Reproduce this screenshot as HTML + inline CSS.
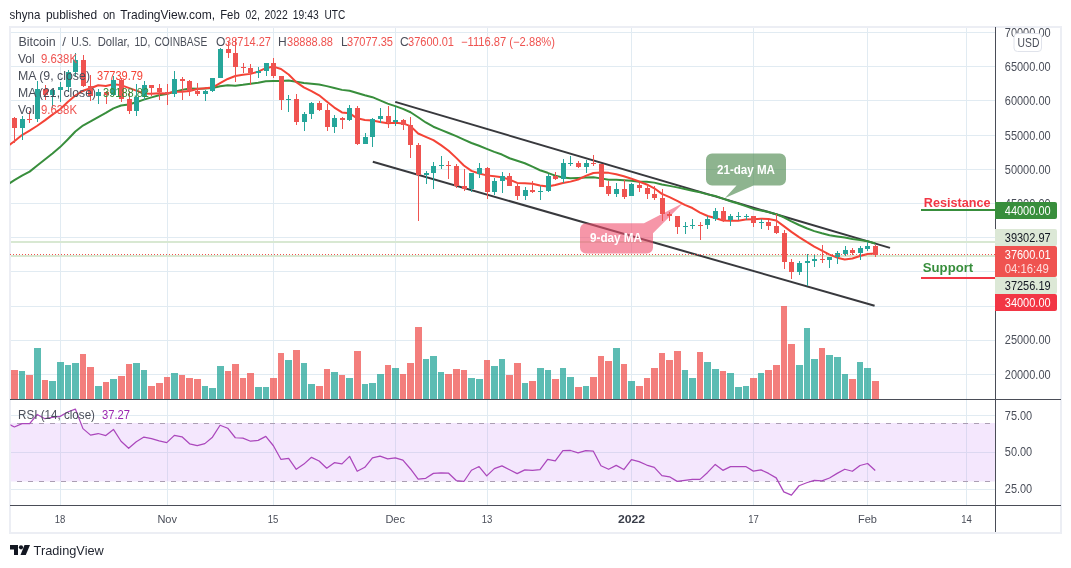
<!DOCTYPE html>
<html><head><meta charset="utf-8"><title>chart</title>
<style>
html,body{margin:0;padding:0;background:#fff;}
body{width:1071px;height:568px;overflow:hidden;position:relative;font-family:"Liberation Sans",sans-serif;}
svg{position:absolute;left:0;top:0;will-change:transform;opacity:0.999;}
text{font-family:"Liberation Sans",sans-serif;}
</style></head><body>
<svg width="1071" height="568" viewBox="0 0 1071 568">
<defs><clipPath id="mainclip"><rect x="10" y="27" width="985" height="372"/></clipPath>
<clipPath id="rsiclip"><rect x="10.5" y="400" width="985" height="105"/></clipPath></defs>
<g font-size="13" fill="#1c1f2a"><text x="9.6" y="18.600" textLength="30.7" lengthAdjust="spacingAndGlyphs">shyna</text><text x="45.9" y="18.600" textLength="51.2" lengthAdjust="spacingAndGlyphs">published</text><text x="102.9" y="18.600" textLength="12.4" lengthAdjust="spacingAndGlyphs">on</text><text x="120.2" y="18.600" textLength="94.9" lengthAdjust="spacingAndGlyphs">TradingView.com,</text><text x="220.2" y="18.600" textLength="19.5" lengthAdjust="spacingAndGlyphs">Feb</text><text x="245.4" y="18.600" textLength="14.4" lengthAdjust="spacingAndGlyphs">02,</text><text x="264.5" y="18.600" textLength="23.2" lengthAdjust="spacingAndGlyphs">2022</text><text x="292.8" y="18.600" textLength="25.9" lengthAdjust="spacingAndGlyphs">19:43</text><text x="324.4" y="18.600" textLength="20.8" lengthAdjust="spacingAndGlyphs">UTC</text></g>
<!-- frame -->
<rect x="10" y="27" width="1051" height="506" fill="#fff" stroke="#eceef4" stroke-width="2"/>
<!-- grid -->
<g stroke="#e1ebf2" stroke-width="1" shape-rendering="crispEdges">
<line x1="11" x2="995" y1="32.5" y2="32.5"/><line x1="11" x2="995" y1="66.5" y2="66.5"/><line x1="11" x2="995" y1="100.5" y2="100.5"/><line x1="11" x2="995" y1="135.5" y2="135.5"/><line x1="11" x2="995" y1="169.5" y2="169.5"/><line x1="11" x2="995" y1="203.5" y2="203.5"/><line x1="11" x2="995" y1="237.5" y2="237.5"/><line x1="11" x2="995" y1="271.5" y2="271.5"/><line x1="11" x2="995" y1="306.5" y2="306.5"/><line x1="11" x2="995" y1="340.5" y2="340.5"/><line x1="11" x2="995" y1="374.5" y2="374.5"/>
<line x1="60.5" x2="60.5" y1="28" y2="505"/><line x1="167.5" x2="167.5" y1="28" y2="505"/><line x1="273.5" x2="273.5" y1="28" y2="505"/><line x1="395.5" x2="395.5" y1="28" y2="505"/><line x1="487.5" x2="487.5" y1="28" y2="505"/><line x1="631.5" x2="631.5" y1="28" y2="505"/><line x1="753.5" x2="753.5" y1="28" y2="505"/><line x1="867.5" x2="867.5" y1="28" y2="505"/><line x1="966.5" x2="966.5" y1="28" y2="505"/>
<line x1="11" x2="995" y1="415.5" y2="415.5"/><line x1="11" x2="995" y1="452.5" y2="452.5"/><line x1="11" x2="995" y1="489.5" y2="489.5"/>
</g>
<!-- pale green horizontal lines -->
<rect x="11" y="241" width="984" height="2" fill="#d8e8d2"/>
<rect x="11" y="255" width="984" height="2" fill="#d8e8d2"/>
<g clip-path="url(#mainclip)">
<g shape-rendering="crispEdges" fill-opacity="0.75"><rect x="11" y="370" width="7" height="29" fill="#ef5350"/><rect x="19" y="371" width="6" height="28" fill="#26a69a"/><rect x="26" y="375" width="7" height="24" fill="#ef5350"/><rect x="34" y="348" width="7" height="51" fill="#26a69a"/><rect x="42" y="380" width="6" height="19" fill="#ef5350"/><rect x="49" y="381" width="7" height="18" fill="#26a69a"/><rect x="57" y="362" width="7" height="37" fill="#26a69a"/><rect x="65" y="365" width="6" height="34" fill="#26a69a"/><rect x="72" y="363" width="7" height="36" fill="#26a69a"/><rect x="80" y="354" width="6" height="45" fill="#ef5350"/><rect x="87" y="367" width="7" height="32" fill="#ef5350"/><rect x="95" y="386" width="7" height="13" fill="#26a69a"/><rect x="103" y="382" width="6" height="17" fill="#ef5350"/><rect x="110" y="379" width="7" height="20" fill="#26a69a"/><rect x="118" y="376" width="7" height="23" fill="#ef5350"/><rect x="126" y="364" width="6" height="35" fill="#ef5350"/><rect x="133" y="363" width="7" height="36" fill="#26a69a"/><rect x="141" y="370" width="6" height="29" fill="#26a69a"/><rect x="148" y="386" width="7" height="13" fill="#ef5350"/><rect x="156" y="383" width="7" height="16" fill="#ef5350"/><rect x="164" y="377" width="6" height="22" fill="#ef5350"/><rect x="171" y="373" width="7" height="26" fill="#26a69a"/><rect x="179" y="375" width="6" height="24" fill="#ef5350"/><rect x="186" y="378" width="7" height="21" fill="#ef5350"/><rect x="194" y="379" width="7" height="20" fill="#ef5350"/><rect x="202" y="386" width="6" height="13" fill="#26a69a"/><rect x="209" y="388" width="7" height="11" fill="#26a69a"/><rect x="217" y="366" width="7" height="33" fill="#26a69a"/><rect x="225" y="371" width="6" height="28" fill="#ef5350"/><rect x="232" y="364" width="7" height="35" fill="#ef5350"/><rect x="240" y="378" width="6" height="21" fill="#ef5350"/><rect x="247" y="373" width="7" height="26" fill="#ef5350"/><rect x="255" y="387" width="7" height="12" fill="#26a69a"/><rect x="263" y="387" width="6" height="12" fill="#26a69a"/><rect x="270" y="378" width="7" height="21" fill="#ef5350"/><rect x="278" y="353" width="6" height="46" fill="#ef5350"/><rect x="285" y="360" width="7" height="39" fill="#26a69a"/><rect x="293" y="350" width="7" height="49" fill="#ef5350"/><rect x="301" y="363" width="6" height="36" fill="#26a69a"/><rect x="308" y="384" width="7" height="15" fill="#26a69a"/><rect x="316" y="386" width="7" height="13" fill="#ef5350"/><rect x="324" y="369" width="6" height="30" fill="#ef5350"/><rect x="331" y="372" width="7" height="27" fill="#26a69a"/><rect x="339" y="375" width="6" height="24" fill="#ef5350"/><rect x="346" y="378" width="7" height="21" fill="#26a69a"/><rect x="354" y="351" width="7" height="48" fill="#ef5350"/><rect x="362" y="384" width="6" height="15" fill="#26a69a"/><rect x="369" y="383" width="7" height="16" fill="#26a69a"/><rect x="377" y="374" width="7" height="25" fill="#26a69a"/><rect x="385" y="365" width="6" height="34" fill="#ef5350"/><rect x="392" y="368" width="7" height="31" fill="#26a69a"/><rect x="400" y="374" width="6" height="25" fill="#ef5350"/><rect x="407" y="363" width="7" height="36" fill="#ef5350"/><rect x="415" y="327" width="7" height="72" fill="#ef5350"/><rect x="423" y="359" width="6" height="40" fill="#26a69a"/><rect x="430" y="356" width="7" height="43" fill="#26a69a"/><rect x="438" y="372" width="6" height="27" fill="#26a69a"/><rect x="445" y="374" width="7" height="25" fill="#ef5350"/><rect x="453" y="369" width="7" height="30" fill="#ef5350"/><rect x="461" y="370" width="6" height="29" fill="#ef5350"/><rect x="468" y="378" width="7" height="21" fill="#26a69a"/><rect x="476" y="379" width="7" height="20" fill="#26a69a"/><rect x="484" y="360" width="6" height="39" fill="#ef5350"/><rect x="491" y="366" width="7" height="33" fill="#26a69a"/><rect x="499" y="359" width="6" height="40" fill="#26a69a"/><rect x="506" y="375" width="7" height="24" fill="#ef5350"/><rect x="514" y="363" width="7" height="36" fill="#ef5350"/><rect x="522" y="383" width="6" height="16" fill="#26a69a"/><rect x="529" y="381" width="7" height="18" fill="#ef5350"/><rect x="537" y="368" width="7" height="31" fill="#26a69a"/><rect x="545" y="370" width="6" height="29" fill="#26a69a"/><rect x="552" y="379" width="7" height="20" fill="#ef5350"/><rect x="560" y="368" width="6" height="31" fill="#26a69a"/><rect x="567" y="377" width="7" height="22" fill="#26a69a"/><rect x="575" y="387" width="7" height="12" fill="#ef5350"/><rect x="583" y="386" width="6" height="13" fill="#26a69a"/><rect x="590" y="377" width="7" height="22" fill="#ef5350"/><rect x="598" y="356" width="6" height="43" fill="#ef5350"/><rect x="605" y="361" width="7" height="38" fill="#ef5350"/><rect x="613" y="348" width="7" height="51" fill="#26a69a"/><rect x="621" y="364" width="6" height="35" fill="#ef5350"/><rect x="628" y="381" width="7" height="18" fill="#26a69a"/><rect x="636" y="386" width="7" height="13" fill="#ef5350"/><rect x="644" y="378" width="6" height="21" fill="#ef5350"/><rect x="651" y="368" width="7" height="31" fill="#ef5350"/><rect x="659" y="353" width="6" height="46" fill="#ef5350"/><rect x="666" y="360" width="7" height="39" fill="#ef5350"/><rect x="674" y="351" width="7" height="48" fill="#ef5350"/><rect x="682" y="370" width="6" height="29" fill="#26a69a"/><rect x="689" y="378" width="7" height="21" fill="#26a69a"/><rect x="697" y="352" width="6" height="47" fill="#ef5350"/><rect x="704" y="362" width="7" height="37" fill="#26a69a"/><rect x="712" y="369" width="7" height="30" fill="#26a69a"/><rect x="720" y="371" width="6" height="28" fill="#ef5350"/><rect x="727" y="373" width="7" height="26" fill="#26a69a"/><rect x="735" y="387" width="7" height="12" fill="#26a69a"/><rect x="743" y="386" width="6" height="13" fill="#26a69a"/><rect x="750" y="378" width="7" height="21" fill="#ef5350"/><rect x="758" y="373" width="6" height="26" fill="#26a69a"/><rect x="765" y="370" width="7" height="29" fill="#ef5350"/><rect x="773" y="365" width="7" height="34" fill="#ef5350"/><rect x="781" y="306" width="6" height="93" fill="#ef5350"/><rect x="788" y="344" width="7" height="55" fill="#ef5350"/><rect x="796" y="365" width="7" height="34" fill="#26a69a"/><rect x="804" y="328" width="6" height="71" fill="#26a69a"/><rect x="811" y="359" width="7" height="40" fill="#26a69a"/><rect x="819" y="348" width="6" height="51" fill="#ef5350"/><rect x="826" y="355" width="7" height="44" fill="#26a69a"/><rect x="834" y="357" width="7" height="42" fill="#26a69a"/><rect x="842" y="374" width="6" height="25" fill="#26a69a"/><rect x="849" y="379" width="7" height="20" fill="#ef5350"/><rect x="857" y="362" width="6" height="37" fill="#26a69a"/><rect x="864" y="368" width="7" height="31" fill="#26a69a"/><rect x="872" y="381" width="7" height="18" fill="#ef5350"/></g>
<!-- channel -->
<line x1="395.200" y1="101.900" x2="890" y2="247.900" stroke="#38393d" stroke-width="2"/>
<line x1="372.800" y1="161.800" x2="874.600" y2="305.800" stroke="#38393d" stroke-width="2"/>
</g>
<!-- callouts -->
<path d="M712,153.500 h68 a6,6 0 0 1 6,6 v20 a6,6 0 0 1 -6,6 h-26.500 l-28.500,12.500 l11.500,-12.500 h-24.500 a6,6 0 0 1 -6,-6 v-20 a6,6 0 0 1 6,-6 z" fill="#4f8a50" fill-opacity="0.64"/>
<text x="717" y="173.600" font-size="12.500" font-weight="bold" fill="#fff" textLength="58" lengthAdjust="spacingAndGlyphs">21-day MA</text>
<path d="M586,223.200 h58 l39.200,-20.300 l-30.200,30.300 v14.400 a6,6 0 0 1 -6,6 h-61 a6,6 0 0 1 -6,-6 v-18.400 a6,6 0 0 1 6,-6 z" fill="#f0506e" fill-opacity="0.6"/>
<text x="590" y="242" font-size="12.500" font-weight="bold" fill="#fff" textLength="52" lengthAdjust="spacingAndGlyphs">9-day MA</text>
<g clip-path="url(#mainclip)">
<path d="M6.77,185.15 L14.39,180.16 L22.01,175.66 L29.63,171.60 L37.25,165.47 L44.86,159.55 L52.48,153.58 L60.10,147.11 L67.72,139.54 L75.34,131.56 L82.95,125.57 L90.57,121.48 L98.19,117.04 L105.81,112.92 L113.43,108.41 L121.04,105.53 L128.66,104.52 L136.28,102.31 L143.90,99.60 L151.52,97.34 L159.13,95.17 L166.75,94.04 L174.37,91.68 L181.99,89.87 L189.61,88.55 L197.22,88.76 L204.84,88.56 L212.46,87.98 L220.08,86.18 L227.70,85.31 L235.31,85.67 L242.93,84.82 L250.55,83.69 L258.17,82.68 L265.79,81.17 L273.40,81.00 L281.02,81.08 L288.64,80.46 L296.26,81.66 L303.88,83.02 L311.49,83.72 L319.11,84.60 L326.73,86.13 L334.35,87.99 L341.97,89.87 L349.58,90.67 L357.20,93.03 L364.82,95.23 L372.44,97.19 L380.06,100.36 L387.67,103.62 L395.29,106.13 L402.91,108.83 L410.53,112.27 L418.15,117.22 L425.76,122.46 L433.38,126.73 L441.00,129.82 L448.62,133.03 L456.24,136.08 L463.85,139.64 L471.47,143.01 L479.09,145.77 L486.71,148.88 L494.33,151.87 L501.94,154.53 L509.56,158.23 L517.18,160.70 L524.80,163.24 L532.42,166.68 L540.03,170.23 L547.65,172.82 L555.27,175.62 L562.89,177.44 L570.51,178.31 L578.12,177.92 L585.74,177.43 L593.36,177.34 L600.98,178.38 L608.60,179.72 L616.21,179.87 L623.83,180.26 L631.45,180.78 L639.07,181.72 L646.69,181.80 L654.30,182.62 L661.92,184.43 L669.54,185.89 L677.16,187.39 L684.78,189.10 L692.39,190.70 L700.01,192.35 L707.63,194.38 L715.25,195.91 L722.87,198.63 L730.48,201.19 L738.10,203.57 L745.72,206.11 L753.34,208.90 L760.96,210.55 L768.57,212.09 L776.19,214.17 L783.81,217.27 L791.43,221.42 L799.05,225.02 L806.66,228.21 L814.28,231.11 L821.90,233.28 L829.52,235.21 L837.14,236.47 L844.75,237.61 L852.37,238.93 L859.99,240.02 L867.61,241.33 L875.23,243.42" fill="none" stroke="#388e3c" stroke-width="2" stroke-linejoin="round"/>
<path d="M6.77,147.12 L14.39,141.19 L22.01,135.02 L29.63,130.58 L37.25,125.77 L44.86,120.40 L52.48,114.64 L60.10,109.27 L67.72,101.99 L75.34,95.52 L82.95,90.81 L90.57,88.28 L98.19,85.28 L105.81,85.90 L113.43,84.22 L121.04,85.13 L128.66,87.83 L136.28,90.63 L143.90,93.46 L151.52,93.70 L159.13,93.20 L166.75,93.47 L174.37,91.65 L181.99,91.75 L189.61,90.94 L197.22,89.00 L204.84,88.31 L212.46,87.54 L220.08,83.24 L227.70,78.97 L235.31,75.97 L242.93,74.79 L250.55,73.88 L258.17,71.60 L265.79,68.18 L273.40,66.59 L281.02,69.02 L288.64,74.49 L296.26,82.13 L303.88,87.30 L311.49,91.13 L319.11,95.31 L326.73,101.51 L334.35,107.55 L341.97,112.45 L349.58,113.33 L357.20,118.34 L364.82,119.98 L372.44,120.58 L380.06,122.07 L387.67,123.36 L395.29,122.64 L402.91,123.43 L410.53,126.13 L418.15,133.54 L425.76,136.85 L433.38,140.08 L441.00,145.17 L448.62,150.72 L456.24,157.86 L463.85,165.50 L471.47,170.90 L479.09,173.48 L486.71,175.38 L494.33,176.18 L501.94,177.32 L509.56,179.60 L517.18,182.90 L524.80,183.36 L532.42,183.66 L540.03,185.56 L547.65,186.48 L555.27,185.03 L562.89,183.09 L570.51,181.61 L578.12,179.48 L585.74,175.87 L593.36,172.96 L600.98,172.47 L608.60,172.86 L616.21,174.31 L623.83,176.32 L631.45,178.68 L639.07,181.45 L646.69,184.45 L654.30,188.29 L661.92,193.86 L669.54,197.13 L677.16,200.80 L684.78,204.91 L692.39,208.02 L700.01,212.56 L707.63,216.02 L715.25,217.96 L722.87,220.46 L730.48,220.73 L738.10,220.73 L745.72,219.55 L753.34,219.17 L760.96,218.79 L768.57,218.93 L776.19,220.49 L783.81,226.15 L791.43,231.85 L799.05,237.05 L806.66,241.96 L814.28,246.63 L821.90,250.73 L829.52,254.69 L837.14,257.69 L844.75,259.59 L852.37,258.56 L859.99,255.96 L867.61,254.08 L875.23,253.43" fill="none" stroke="#f44336" stroke-width="2" stroke-linejoin="round"/>
<g shape-rendering="crispEdges"><rect x="14" y="117" width="1" height="26" fill="#ef5350"/><rect x="12" y="118" width="5" height="10" fill="#ef5350"/><rect x="22" y="116" width="1" height="24" fill="#26a69a"/><rect x="20" y="119" width="5" height="9" fill="#26a69a"/><rect x="29" y="111" width="1" height="12" fill="#ef5350"/><rect x="27" y="119" width="5" height="1" fill="#ef5350"/><rect x="37" y="81" width="1" height="41" fill="#26a69a"/><rect x="35" y="89" width="5" height="30" fill="#26a69a"/><rect x="45" y="85" width="1" height="15" fill="#ef5350"/><rect x="43" y="89" width="5" height="6" fill="#ef5350"/><rect x="52" y="89" width="1" height="19" fill="#26a69a"/><rect x="50" y="90" width="5" height="5" fill="#26a69a"/><rect x="60" y="82" width="1" height="20" fill="#26a69a"/><rect x="58" y="87" width="5" height="3" fill="#26a69a"/><rect x="68" y="70" width="1" height="22" fill="#26a69a"/><rect x="66" y="72" width="5" height="15" fill="#26a69a"/><rect x="75" y="53" width="1" height="24" fill="#26a69a"/><rect x="73" y="60" width="5" height="12" fill="#26a69a"/><rect x="83" y="55" width="1" height="32" fill="#ef5350"/><rect x="81" y="60" width="5" height="26" fill="#ef5350"/><rect x="90" y="75" width="1" height="26" fill="#ef5350"/><rect x="88" y="86" width="5" height="10" fill="#ef5350"/><rect x="98" y="89" width="1" height="15" fill="#26a69a"/><rect x="96" y="92" width="5" height="4" fill="#26a69a"/><rect x="106" y="91" width="1" height="13" fill="#ef5350"/><rect x="104" y="92" width="5" height="3" fill="#ef5350"/><rect x="113" y="76" width="1" height="20" fill="#26a69a"/><rect x="111" y="80" width="5" height="15" fill="#26a69a"/><rect x="121" y="78" width="1" height="24" fill="#ef5350"/><rect x="119" y="80" width="5" height="19" fill="#ef5350"/><rect x="129" y="91" width="1" height="23" fill="#ef5350"/><rect x="127" y="99" width="5" height="12" fill="#ef5350"/><rect x="136" y="84" width="1" height="32" fill="#26a69a"/><rect x="134" y="97" width="5" height="14" fill="#26a69a"/><rect x="144" y="81" width="1" height="19" fill="#26a69a"/><rect x="142" y="85" width="5" height="12" fill="#26a69a"/><rect x="151" y="85" width="1" height="11" fill="#ef5350"/><rect x="149" y="85" width="5" height="3" fill="#ef5350"/><rect x="159" y="84" width="1" height="16" fill="#ef5350"/><rect x="157" y="88" width="5" height="4" fill="#ef5350"/><rect x="167" y="84" width="1" height="21" fill="#ef5350"/><rect x="165" y="92" width="5" height="2" fill="#ef5350"/><rect x="174" y="71" width="1" height="26" fill="#26a69a"/><rect x="172" y="79" width="5" height="15" fill="#26a69a"/><rect x="182" y="77" width="1" height="23" fill="#ef5350"/><rect x="180" y="79" width="5" height="2" fill="#ef5350"/><rect x="189" y="80" width="1" height="16" fill="#ef5350"/><rect x="187" y="81" width="5" height="10" fill="#ef5350"/><rect x="197" y="83" width="1" height="13" fill="#ef5350"/><rect x="195" y="91" width="5" height="3" fill="#ef5350"/><rect x="205" y="90" width="1" height="11" fill="#26a69a"/><rect x="203" y="91" width="5" height="3" fill="#26a69a"/><rect x="212" y="78" width="1" height="14" fill="#26a69a"/><rect x="210" y="78" width="5" height="13" fill="#26a69a"/><rect x="220" y="48" width="1" height="30" fill="#26a69a"/><rect x="218" y="49" width="5" height="29" fill="#26a69a"/><rect x="228" y="42" width="1" height="16" fill="#ef5350"/><rect x="226" y="49" width="5" height="4" fill="#ef5350"/><rect x="235" y="39" width="1" height="43" fill="#ef5350"/><rect x="233" y="53" width="5" height="14" fill="#ef5350"/><rect x="243" y="63" width="1" height="10" fill="#ef5350"/><rect x="241" y="67" width="5" height="1" fill="#ef5350"/><rect x="250" y="64" width="1" height="21" fill="#ef5350"/><rect x="248" y="68" width="5" height="5" fill="#ef5350"/><rect x="258" y="67" width="1" height="11" fill="#26a69a"/><rect x="256" y="71" width="5" height="2" fill="#26a69a"/><rect x="266" y="63" width="1" height="13" fill="#26a69a"/><rect x="264" y="63" width="5" height="8" fill="#26a69a"/><rect x="273" y="58" width="1" height="20" fill="#ef5350"/><rect x="271" y="63" width="5" height="13" fill="#ef5350"/><rect x="281" y="76" width="1" height="34" fill="#ef5350"/><rect x="279" y="76" width="5" height="24" fill="#ef5350"/><rect x="288" y="95" width="1" height="17" fill="#26a69a"/><rect x="286" y="99" width="5" height="1" fill="#26a69a"/><rect x="296" y="94" width="1" height="31" fill="#ef5350"/><rect x="294" y="99" width="5" height="23" fill="#ef5350"/><rect x="304" y="112" width="1" height="19" fill="#26a69a"/><rect x="302" y="114" width="5" height="8" fill="#26a69a"/><rect x="311" y="102" width="1" height="17" fill="#26a69a"/><rect x="309" y="103" width="5" height="11" fill="#26a69a"/><rect x="319" y="101" width="1" height="10" fill="#ef5350"/><rect x="317" y="103" width="5" height="7" fill="#ef5350"/><rect x="327" y="104" width="1" height="27" fill="#ef5350"/><rect x="325" y="110" width="5" height="17" fill="#ef5350"/><rect x="334" y="115" width="1" height="18" fill="#26a69a"/><rect x="332" y="118" width="5" height="9" fill="#26a69a"/><rect x="342" y="117" width="1" height="12" fill="#ef5350"/><rect x="340" y="118" width="5" height="2" fill="#ef5350"/><rect x="349" y="105" width="1" height="16" fill="#26a69a"/><rect x="347" y="108" width="5" height="12" fill="#26a69a"/><rect x="357" y="106" width="1" height="39" fill="#ef5350"/><rect x="355" y="108" width="5" height="36" fill="#ef5350"/><rect x="365" y="133" width="1" height="11" fill="#26a69a"/><rect x="363" y="137" width="5" height="7" fill="#26a69a"/><rect x="372" y="118" width="1" height="29" fill="#26a69a"/><rect x="370" y="119" width="5" height="18" fill="#26a69a"/><rect x="380" y="108" width="1" height="15" fill="#26a69a"/><rect x="378" y="116" width="5" height="3" fill="#26a69a"/><rect x="388" y="106" width="1" height="22" fill="#ef5350"/><rect x="386" y="116" width="5" height="6" fill="#ef5350"/><rect x="395" y="107" width="1" height="19" fill="#26a69a"/><rect x="393" y="120" width="5" height="2" fill="#26a69a"/><rect x="403" y="119" width="1" height="11" fill="#ef5350"/><rect x="401" y="120" width="5" height="5" fill="#ef5350"/><rect x="410" y="117" width="1" height="41" fill="#ef5350"/><rect x="408" y="125" width="5" height="20" fill="#ef5350"/><rect x="418" y="143" width="1" height="78" fill="#ef5350"/><rect x="416" y="145" width="5" height="30" fill="#ef5350"/><rect x="426" y="171" width="1" height="13" fill="#26a69a"/><rect x="424" y="173" width="5" height="2" fill="#26a69a"/><rect x="433" y="162" width="1" height="27" fill="#26a69a"/><rect x="431" y="166" width="5" height="7" fill="#26a69a"/><rect x="441" y="156" width="1" height="13" fill="#26a69a"/><rect x="439" y="165" width="5" height="1" fill="#26a69a"/><rect x="448" y="161" width="1" height="18" fill="#ef5350"/><rect x="446" y="165" width="5" height="1" fill="#ef5350"/><rect x="456" y="164" width="1" height="24" fill="#ef5350"/><rect x="454" y="166" width="5" height="20" fill="#ef5350"/><rect x="464" y="169" width="1" height="22" fill="#ef5350"/><rect x="462" y="186" width="5" height="3" fill="#ef5350"/><rect x="471" y="173" width="1" height="19" fill="#26a69a"/><rect x="469" y="173" width="5" height="16" fill="#26a69a"/><rect x="479" y="163" width="1" height="15" fill="#26a69a"/><rect x="477" y="168" width="5" height="6" fill="#26a69a"/><rect x="487" y="167" width="1" height="32" fill="#ef5350"/><rect x="485" y="168" width="5" height="24" fill="#ef5350"/><rect x="494" y="178" width="1" height="17" fill="#26a69a"/><rect x="492" y="181" width="5" height="11" fill="#26a69a"/><rect x="502" y="172" width="1" height="21" fill="#26a69a"/><rect x="500" y="176" width="5" height="5" fill="#26a69a"/><rect x="509" y="173" width="1" height="13" fill="#ef5350"/><rect x="507" y="176" width="5" height="10" fill="#ef5350"/><rect x="517" y="183" width="1" height="17" fill="#ef5350"/><rect x="515" y="186" width="5" height="10" fill="#ef5350"/><rect x="525" y="187" width="1" height="13" fill="#26a69a"/><rect x="523" y="190" width="5" height="6" fill="#26a69a"/><rect x="532" y="181" width="1" height="12" fill="#ef5350"/><rect x="530" y="190" width="5" height="2" fill="#ef5350"/><rect x="540" y="186" width="1" height="14" fill="#26a69a"/><rect x="538" y="191" width="5" height="1" fill="#26a69a"/><rect x="548" y="174" width="1" height="18" fill="#26a69a"/><rect x="546" y="176" width="5" height="15" fill="#26a69a"/><rect x="555" y="172" width="1" height="8" fill="#ef5350"/><rect x="553" y="176" width="5" height="3" fill="#ef5350"/><rect x="563" y="159" width="1" height="24" fill="#26a69a"/><rect x="561" y="163" width="5" height="16" fill="#26a69a"/><rect x="570" y="156" width="1" height="10" fill="#26a69a"/><rect x="568" y="163" width="5" height="1" fill="#26a69a"/><rect x="578" y="161" width="1" height="7" fill="#ef5350"/><rect x="576" y="163" width="5" height="4" fill="#ef5350"/><rect x="586" y="160" width="1" height="13" fill="#26a69a"/><rect x="584" y="163" width="5" height="4" fill="#26a69a"/><rect x="593" y="155" width="1" height="11" fill="#ef5350"/><rect x="591" y="163" width="5" height="1" fill="#ef5350"/><rect x="601" y="164" width="1" height="23" fill="#ef5350"/><rect x="599" y="164" width="5" height="23" fill="#ef5350"/><rect x="608" y="181" width="1" height="15" fill="#ef5350"/><rect x="606" y="186" width="5" height="8" fill="#ef5350"/><rect x="616" y="183" width="1" height="14" fill="#26a69a"/><rect x="614" y="189" width="5" height="5" fill="#26a69a"/><rect x="624" y="179" width="1" height="20" fill="#ef5350"/><rect x="622" y="189" width="5" height="8" fill="#ef5350"/><rect x="631" y="183" width="1" height="13" fill="#26a69a"/><rect x="629" y="184" width="5" height="12" fill="#26a69a"/><rect x="639" y="183" width="1" height="9" fill="#ef5350"/><rect x="637" y="185" width="5" height="3" fill="#ef5350"/><rect x="647" y="186" width="1" height="13" fill="#ef5350"/><rect x="645" y="188" width="5" height="6" fill="#ef5350"/><rect x="654" y="186" width="1" height="14" fill="#ef5350"/><rect x="652" y="194" width="5" height="4" fill="#ef5350"/><rect x="662" y="189" width="1" height="32" fill="#ef5350"/><rect x="660" y="198" width="5" height="16" fill="#ef5350"/><rect x="669" y="212" width="1" height="9" fill="#ef5350"/><rect x="667" y="214" width="5" height="2" fill="#ef5350"/><rect x="677" y="216" width="1" height="18" fill="#ef5350"/><rect x="675" y="216" width="5" height="11" fill="#ef5350"/><rect x="685" y="222" width="1" height="12" fill="#26a69a"/><rect x="683" y="226" width="5" height="1" fill="#26a69a"/><rect x="692" y="219" width="1" height="10" fill="#26a69a"/><rect x="690" y="225" width="5" height="1" fill="#26a69a"/><rect x="700" y="222" width="1" height="18" fill="#ef5350"/><rect x="698" y="225" width="5" height="1" fill="#ef5350"/><rect x="707" y="216" width="1" height="13" fill="#26a69a"/><rect x="705" y="219" width="5" height="6" fill="#26a69a"/><rect x="715" y="208" width="1" height="13" fill="#26a69a"/><rect x="713" y="211" width="5" height="8" fill="#26a69a"/><rect x="723" y="207" width="1" height="15" fill="#ef5350"/><rect x="721" y="211" width="5" height="9" fill="#ef5350"/><rect x="730" y="214" width="1" height="12" fill="#26a69a"/><rect x="728" y="216" width="5" height="4" fill="#26a69a"/><rect x="738" y="212" width="1" height="8" fill="#26a69a"/><rect x="736" y="216" width="5" height="1" fill="#26a69a"/><rect x="746" y="214" width="1" height="6" fill="#26a69a"/><rect x="744" y="216" width="5" height="1" fill="#26a69a"/><rect x="753" y="216" width="1" height="11" fill="#ef5350"/><rect x="751" y="216" width="5" height="7" fill="#ef5350"/><rect x="761" y="219" width="1" height="10" fill="#26a69a"/><rect x="759" y="222" width="5" height="1" fill="#26a69a"/><rect x="768" y="220" width="1" height="10" fill="#ef5350"/><rect x="766" y="222" width="5" height="4" fill="#ef5350"/><rect x="776" y="214" width="1" height="20" fill="#ef5350"/><rect x="774" y="226" width="5" height="7" fill="#ef5350"/><rect x="784" y="230" width="1" height="39" fill="#ef5350"/><rect x="782" y="233" width="5" height="29" fill="#ef5350"/><rect x="791" y="259" width="1" height="20" fill="#ef5350"/><rect x="789" y="262" width="5" height="10" fill="#ef5350"/><rect x="799" y="261" width="1" height="14" fill="#26a69a"/><rect x="797" y="263" width="5" height="9" fill="#26a69a"/><rect x="807" y="254" width="1" height="32" fill="#26a69a"/><rect x="805" y="261" width="5" height="2" fill="#26a69a"/><rect x="814" y="254" width="1" height="13" fill="#26a69a"/><rect x="812" y="259" width="5" height="2" fill="#26a69a"/><rect x="822" y="245" width="1" height="18" fill="#ef5350"/><rect x="820" y="259" width="5" height="1" fill="#ef5350"/><rect x="829" y="257" width="1" height="11" fill="#26a69a"/><rect x="827" y="257" width="5" height="3" fill="#26a69a"/><rect x="837" y="251" width="1" height="13" fill="#26a69a"/><rect x="835" y="253" width="5" height="4" fill="#26a69a"/><rect x="845" y="246" width="1" height="10" fill="#26a69a"/><rect x="843" y="250" width="5" height="4" fill="#26a69a"/><rect x="852" y="248" width="1" height="7" fill="#ef5350"/><rect x="850" y="250" width="5" height="3" fill="#ef5350"/><rect x="860" y="246" width="1" height="14" fill="#26a69a"/><rect x="858" y="248" width="5" height="5" fill="#26a69a"/><rect x="867" y="242" width="1" height="9" fill="#26a69a"/><rect x="865" y="246" width="5" height="3" fill="#26a69a"/><rect x="875" y="245" width="1" height="12" fill="#ef5350"/><rect x="873" y="246" width="5" height="9" fill="#ef5350"/></g>
<line x1="10" x2="995" y1="254.500" y2="254.500" stroke="#ef5350" stroke-width="1" stroke-dasharray="1,2" shape-rendering="crispEdges"/>
</g>
<!-- Resistance / Support -->
<text x="923.800" y="207" font-size="13.500" font-weight="bold" fill="#f23645" textLength="66.700" lengthAdjust="spacingAndGlyphs">Resistance</text>
<rect x="921" y="209" width="75" height="2" fill="#388e3c"/>
<text x="922.800" y="272" font-size="13.500" font-weight="bold" fill="#388e3c" textLength="50.400" lengthAdjust="spacingAndGlyphs">Support</text>
<rect x="921" y="277" width="75" height="2" fill="#f23645"/>
<!-- RSI -->
<rect x="11" y="423" width="984" height="58.500" fill="#f4e7fd"/>
<g stroke="#dcd8f1" stroke-width="1" shape-rendering="crispEdges">
<line x1="11" x2="995" y1="452.500" y2="452.500"/>
<line x1="60.5" x2="60.5" y1="423" y2="481"/><line x1="167.5" x2="167.5" y1="423" y2="481"/><line x1="273.5" x2="273.5" y1="423" y2="481"/><line x1="395.5" x2="395.5" y1="423" y2="481"/><line x1="487.5" x2="487.5" y1="423" y2="481"/><line x1="631.5" x2="631.5" y1="423" y2="481"/><line x1="753.5" x2="753.5" y1="423" y2="481"/><line x1="867.5" x2="867.5" y1="423" y2="481"/><line x1="966.5" x2="966.5" y1="423" y2="481"/>
</g>
<line x1="11" x2="995" y1="423.500" y2="423.500" stroke="#ab9eb3" stroke-width="1" stroke-dasharray="5,6" stroke-dashoffset="5"/>
<line x1="11" x2="995" y1="481.500" y2="481.500" stroke="#ab9eb3" stroke-width="1" stroke-dasharray="5,6" stroke-dashoffset="5"/>
<g clip-path="url(#rsiclip)"><path d="M6.77,423.02 L14.39,426.96 L22.01,423.61 L29.63,423.72 L37.25,414.49 L44.86,418.73 L52.48,417.39 L60.10,416.39 L67.72,411.97 L75.34,409.05 L82.95,428.62 L90.57,435.15 L98.19,433.52 L105.81,435.53 L113.43,429.43 L121.04,441.24 L128.66,448.24 L136.28,441.74 L143.90,437.08 L151.52,438.63 L159.13,440.92 L166.75,442.60 L174.37,435.38 L181.99,436.76 L189.61,443.78 L197.22,445.53 L204.84,443.63 L212.46,437.15 L220.08,425.25 L227.70,428.21 L235.31,437.75 L242.93,438.20 L250.55,441.23 L258.17,440.33 L265.79,436.40 L273.40,445.73 L281.02,459.48 L288.64,458.42 L296.26,469.36 L303.88,464.10 L311.49,457.33 L319.11,460.98 L326.73,468.19 L334.35,462.67 L341.97,463.92 L349.58,456.37 L357.20,471.24 L364.82,467.27 L372.44,457.90 L380.06,456.17 L387.67,458.82 L395.29,457.85 L402.91,460.20 L410.53,468.99 L418.15,479.21 L425.76,478.32 L433.38,473.38 L441.00,472.92 L448.62,473.19 L456.24,480.57 L463.85,481.48 L471.47,470.23 L479.09,466.55 L486.71,475.92 L494.33,468.62 L501.94,465.84 L509.56,469.81 L517.18,473.67 L524.80,469.90 L532.42,470.48 L540.03,469.70 L547.65,459.37 L555.27,460.87 L562.89,450.69 L570.51,450.48 L578.12,452.94 L585.74,450.60 L593.36,451.20 L600.98,465.72 L608.60,469.30 L616.21,465.33 L623.83,469.52 L631.45,459.67 L639.07,461.67 L646.69,465.04 L654.30,467.38 L661.92,475.67 L669.54,476.77 L677.16,481.40 L684.78,480.39 L692.39,479.32 L700.01,479.39 L707.63,472.42 L715.25,464.40 L722.87,470.34 L730.48,466.57 L738.10,466.57 L745.72,466.57 L753.34,471.12 L760.96,469.85 L768.57,473.43 L776.19,477.91 L783.81,491.91 L791.43,495.10 L799.05,485.74 L806.66,482.73 L814.28,480.42 L821.90,480.95 L829.52,478.00 L837.14,473.38 L844.75,469.24 L852.37,471.27 L859.99,465.50 L867.61,463.49 L875.23,470.44" fill="none" stroke="#ab47bc" stroke-width="1.250" stroke-linejoin="round"/></g>
<!-- separators / axes -->
<rect x="10" y="399" width="1051" height="1" fill="#4a4d57"/>
<rect x="10" y="505" width="1051" height="1" fill="#4a4d57"/>
<rect x="995" y="27" width="1" height="505" fill="#4a4d57"/>
<!-- price labels -->
<g font-size="12" fill="#4a4e59">
<text x="1004.800" y="36.9" textLength="45.800" lengthAdjust="spacingAndGlyphs">70000.00</text><text x="1004.800" y="71.1" textLength="45.800" lengthAdjust="spacingAndGlyphs">65000.00</text><text x="1004.800" y="105.3" textLength="45.800" lengthAdjust="spacingAndGlyphs">60000.00</text><text x="1004.800" y="139.5" textLength="45.800" lengthAdjust="spacingAndGlyphs">55000.00</text><text x="1004.800" y="173.7" textLength="45.800" lengthAdjust="spacingAndGlyphs">50000.00</text><text x="1004.800" y="207.9" textLength="45.800" lengthAdjust="spacingAndGlyphs">45000.00</text>
<text x="1004.800" y="343.9" textLength="45.800" lengthAdjust="spacingAndGlyphs">25000.00</text>
<text x="1004.800" y="378.9" textLength="45.800" lengthAdjust="spacingAndGlyphs">20000.00</text>
<text x="1004.800" y="420" textLength="27.400" lengthAdjust="spacingAndGlyphs">75.00</text>
<text x="1004.800" y="456" textLength="27.400" lengthAdjust="spacingAndGlyphs">50.00</text>
<text x="1004.800" y="493" textLength="27.400" lengthAdjust="spacingAndGlyphs">25.00</text>
</g>
<!-- USD -->
<rect x="1014" y="33.500" width="27.500" height="18" rx="3.500" fill="#fff" stroke="#e0e3eb"/>
<text x="1017.600" y="46.900" font-size="12" fill="#4a4e59" textLength="21.800" lengthAdjust="spacingAndGlyphs">USD</text>
<!-- axis tags -->
<path d="M995,202 h60 a2,2 0 0 1 2,2 v13 a2,2 0 0 1 -2,2 h-60 z" fill="#388e3c"/>
<text x="1004.800" y="215" font-size="12" fill="#fff" textLength="45.800" lengthAdjust="spacingAndGlyphs">44000.00</text>
<path d="M995,229 h60 a2,2 0 0 1 2,2 v13 a2,2 0 0 1 -2,2 h-60 z" fill="#dce8d6"/>
<text x="1004.800" y="242" font-size="12" fill="#131722" textLength="45.800" lengthAdjust="spacingAndGlyphs">39302.97</text>
<path d="M995,246 h60 a2,2 0 0 1 2,2 v27 a2,2 0 0 1 -2,2 h-60 z" fill="#ef5350"/>
<text x="1004.800" y="259" font-size="12" fill="#fff" textLength="45.800" lengthAdjust="spacingAndGlyphs">37600.01</text>
<text x="1004.800" y="273" font-size="12" fill="#ffdcdc" textLength="44" lengthAdjust="spacingAndGlyphs">04:16:49</text>
<path d="M995,277 h60 a2,2 0 0 1 2,2 v13 a2,2 0 0 1 -2,2 h-60 z" fill="#dce8d6"/>
<text x="1004.800" y="290" font-size="12" fill="#131722" textLength="45.800" lengthAdjust="spacingAndGlyphs">37256.19</text>
<path d="M995,294 h60 a2,2 0 0 1 2,2 v13 a2,2 0 0 1 -2,2 h-60 z" fill="#f23645"/>
<text x="1004.800" y="307" font-size="12" fill="#fff" textLength="45.800" lengthAdjust="spacingAndGlyphs">34000.00</text>
<!-- time labels -->
<g font-size="11.500" fill="#4a4e59" text-anchor="middle">
<text x="60" y="523" textLength="10.600" lengthAdjust="spacingAndGlyphs">18</text><text x="167.200" y="523" textLength="19.600" lengthAdjust="spacingAndGlyphs">Nov</text><text x="273" y="523" textLength="10.600" lengthAdjust="spacingAndGlyphs">15</text><text x="395.200" y="523" textLength="19.600" lengthAdjust="spacingAndGlyphs">Dec</text><text x="487" y="523" textLength="10.600" lengthAdjust="spacingAndGlyphs">13</text>
<text x="631.500" y="523" font-weight="bold" fill="#3a3e4a" textLength="27.200" lengthAdjust="spacingAndGlyphs">2022</text><text x="753.500" y="523" textLength="10.600" lengthAdjust="spacingAndGlyphs">17</text><text x="867.500" y="523" textLength="19" lengthAdjust="spacingAndGlyphs">Feb</text><text x="966.500" y="523" textLength="10.600" lengthAdjust="spacingAndGlyphs">14</text>
</g>
<!-- legend -->
<g font-size="12">
<text x="18.4" y="46" fill="#4a4e59" textLength="37.3" lengthAdjust="spacingAndGlyphs">Bitcoin</text><text x="62.2" y="46" fill="#4a4e59" textLength="3.6" lengthAdjust="spacingAndGlyphs">/</text><text x="71.3" y="46" fill="#4a4e59" textLength="20.2" lengthAdjust="spacingAndGlyphs">U.S.</text><text x="97.7" y="46" fill="#4a4e59" textLength="32.0" lengthAdjust="spacingAndGlyphs">Dollar,</text><text x="134.4" y="46" fill="#4a4e59" textLength="15.9" lengthAdjust="spacingAndGlyphs">1D,</text><text x="154.5" y="46" fill="#4a4e59" textLength="52.7" lengthAdjust="spacingAndGlyphs">COINBASE</text>
<text x="216" y="46" fill="#4a4e59">O</text><text x="225" y="46" fill="#ef5350" textLength="46" lengthAdjust="spacingAndGlyphs">38714.27</text>
<text x="278" y="46" fill="#4a4e59">H</text><text x="287" y="46" fill="#ef5350" textLength="46" lengthAdjust="spacingAndGlyphs">38888.88</text>
<text x="341" y="46" fill="#4a4e59">L</text><text x="347" y="46" fill="#ef5350" textLength="46" lengthAdjust="spacingAndGlyphs">37077.35</text>
<text x="400" y="46" fill="#4a4e59">C</text><text x="408" y="46" fill="#ef5350" textLength="46" lengthAdjust="spacingAndGlyphs">37600.01</text>
<text x="461" y="46" fill="#ef5350" textLength="94" lengthAdjust="spacingAndGlyphs">−1116.87 (−2.88%)</text>
<text x="18" y="63" fill="#4a4e59">Vol</text><text x="41" y="63" fill="#ef5350" textLength="36" lengthAdjust="spacingAndGlyphs">9.638K</text>
<text x="18" y="80" fill="#4a4e59" textLength="72" lengthAdjust="spacingAndGlyphs">MA (9, close)</text><text x="97" y="80" fill="#f44336" textLength="46" lengthAdjust="spacingAndGlyphs">37739.79</text>
<text x="18" y="97" fill="#4a4e59" textLength="78" lengthAdjust="spacingAndGlyphs">MA (21, close)</text><text x="103" y="97" fill="#388e3c" textLength="46" lengthAdjust="spacingAndGlyphs">39188.82</text>
<text x="18" y="113.800" fill="#4a4e59">Vol</text><text x="41" y="113.800" fill="#ef5350" textLength="36" lengthAdjust="spacingAndGlyphs">9.638K</text>
<text x="18" y="419" fill="#4a4e59" textLength="77" lengthAdjust="spacingAndGlyphs">RSI (14, close)</text><text x="102" y="419" fill="#9c27b0" textLength="28" lengthAdjust="spacingAndGlyphs">37.27</text>
</g>
<!-- logo -->
<g fill="#131722"><path d="M10,545 h8 v10 h-4 v-5.500 h-4 z"/><circle cx="21" cy="547.3" r="2.1"/><path d="M24.500,545 h5.500 l-4.200,10 h-5.300 z"/></g>
<text x="33.600" y="555" font-size="13.500" fill="#1e222d" textLength="70.200" lengthAdjust="spacingAndGlyphs">TradingView</text>
</svg>
</body></html>
